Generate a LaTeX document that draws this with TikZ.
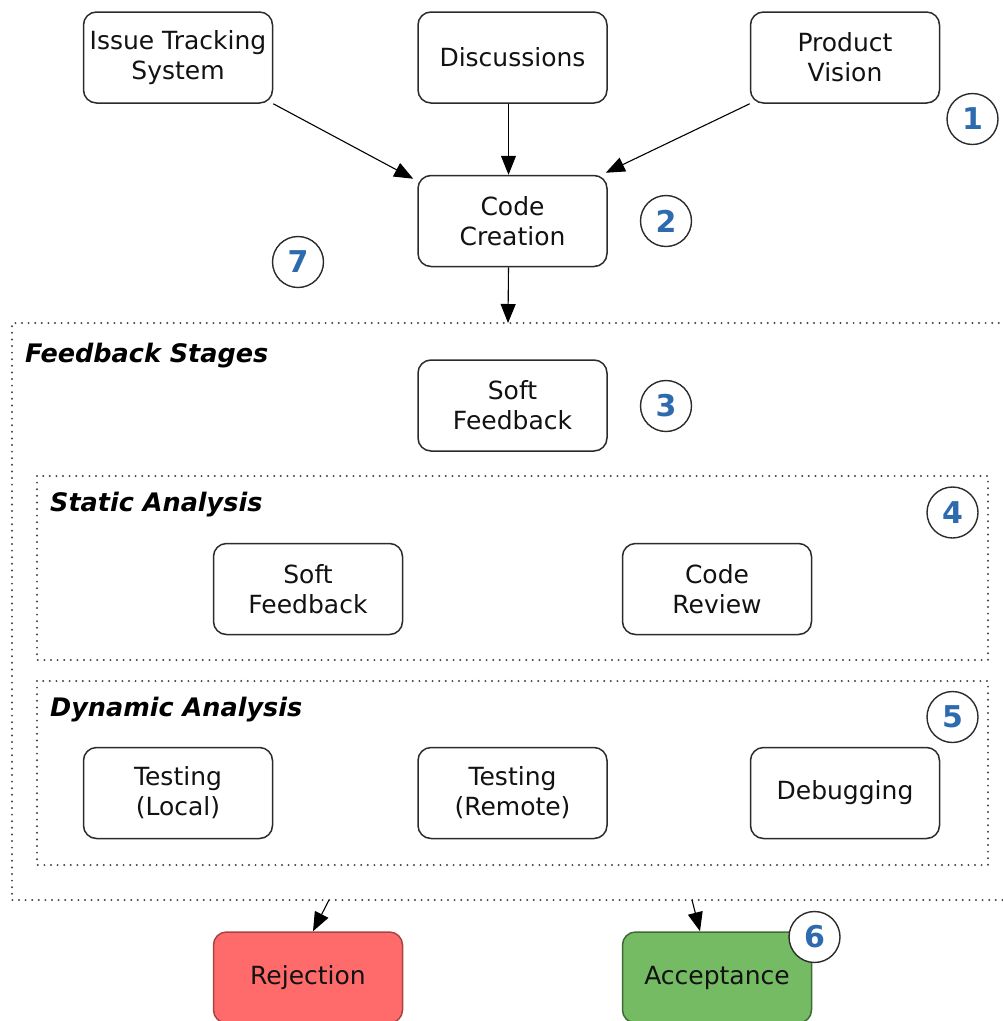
\documentclass[tikz,border=0pt]{standalone}
\usepackage{fontspec}
\setmainfont{DejaVu Sans}
\usetikzlibrary{arrows.meta,calc}
\definecolor{edgegray}{HTML}{2B2B2B}
\definecolor{numblue}{HTML}{2E6BAE}
\definecolor{rejfill}{HTML}{FF6B6B}
\definecolor{rejline}{HTML}{A94343}
\definecolor{accfill}{HTML}{75BB63}
\definecolor{accline}{HTML}{3E6B32}
\definecolor{dotgray}{HTML}{444444}
\tikzset{
  stagebox/.style={draw=edgegray, line width=1.5pt, rounded corners=13pt, fill=white,
    minimum width=189pt, minimum height=91pt, align=center, inner sep=0pt,
    font=\fontsize{25}{30}\selectfont, text=black!93},
  badge/.style={circle, draw=edgegray, line width=1.4pt, fill=white, minimum size=51pt,
    inner sep=0pt, text=numblue, font=\fontsize{30}{32}\selectfont\bfseries},
  grouptitle/.style={anchor=base west, inner sep=0pt,
    font=\fontsize{25.5}{30}\selectfont\bfseries\itshape},
  groupframe/.style={draw=dotgray, line width=2.2pt, dash pattern=on 0pt off 6.6pt, line cap=round},
  flow/.style={draw=black, line width=1.1pt, -{Triangle[length=19pt,width=15pt]}}
}
\begin{document}
\begin{tikzpicture}[x=1pt,y=-1pt]
\useasboundingbox (0,0) rectangle (1003,1021);
\clip (0,0) rectangle (1003,1021);

% dotted group frames
\draw[groupframe] (1012,323) -- (12,323) -- (12,900) -- (1012,900);
\draw[groupframe] (37,476) rectangle (988,660);
\draw[groupframe] (37,681) rectangle (988,865);

\node[grouptitle] (tfb) at (25,362) {Feedback Stages};
\node[grouptitle] (tsa) at (50,511) {Static Analysis};
\node[grouptitle] (tda) at (50,716) {Dynamic Analysis};

% sources
\node[stagebox] (issue) at (178,57.5) {Issue Tracking\\System};
\node[stagebox] (disc) at (512.5,57.5) {Discussions};
\node[stagebox] (vision) at (845,57.5) {Product\\Vision};
\node[stagebox] (code) at (512.5,221) {Code\\Creation};

% feedback stages
\node[stagebox] (soft) at (512.5,405.5) {Soft\\Feedback};
\node[stagebox] (softsa) at (308,589) {Soft\\Feedback};
\node[stagebox] (review) at (717,589) {Code\\Review};
\node[stagebox] (tlocal) at (178,793) {Testing\\(Local)};
\node[stagebox] (tremote) at (512.5,793) {Testing\\(Remote)};
\node[stagebox] (debug) at (845,793) {Debugging};

% outcomes
\node[stagebox, fill=rejfill, draw=rejline] (reject) at (308,977.5) {Rejection};
\node[stagebox, fill=accfill, draw=accline] (accept) at (717,977.5) {Acceptance};

% connectors
\coordinate (fbtop) at (508,323);
\coordinate (fbrej) at (329,900);
\coordinate (fbacc) at (692,900);
\draw[flow] (issue.south east) -- ($(code.north west)+(-4,4)$);
\draw[flow] ($(disc.south)+(-4,0)$) -- ($(code.north)+(-4,0)$);
\draw[flow] (vision.south west) -- ($(code.north east)+(-2,-2)$);
\draw[flow] ($(code.south)+(-4,0)$) -- (fbtop);
\draw[flow] (fbrej) -- ($(reject.north)+(5,0)$);
\draw[flow] (fbacc) -- ($(accept.north)+(-17,0)$);

% step numbers
\node[badge] (n1) at (972.5,119) {1};
\node[badge] (n2) at (666,221) {2};
\node[badge] (n3) at (666,406) {3};
\node[badge] (n4) at (952.5,512.5) {4};
\node[badge] (n5) at (952.5,717) {5};
\node[badge] (n6) at (814.5,937) {6};
\node[badge] (n7) at (298,262) {7};
\end{tikzpicture}
\end{document}
